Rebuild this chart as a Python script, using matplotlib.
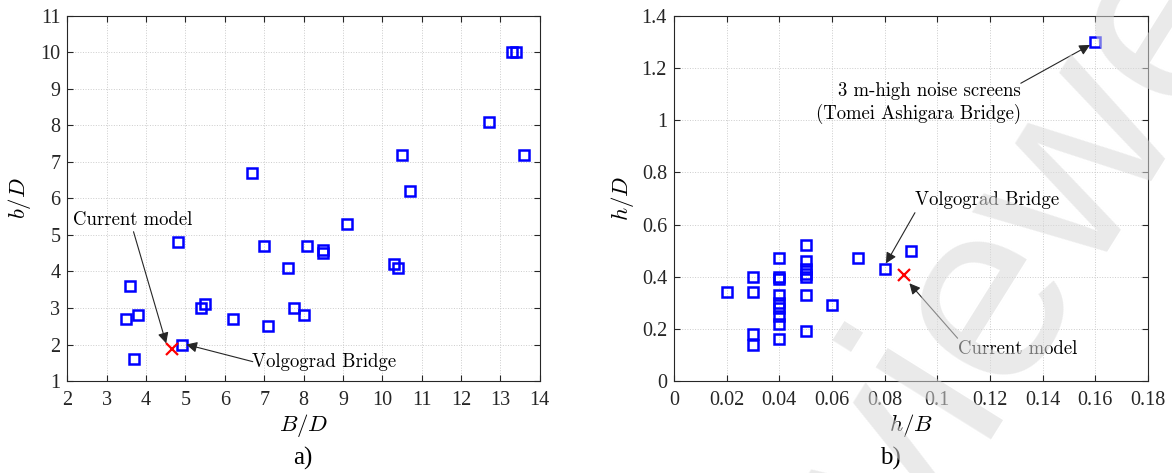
import matplotlib
matplotlib.use('Agg')
import matplotlib.pyplot as plt

# deck geometry database: B/D vs b/D (left) and h/B vs h/D (right)
bridge_BD = [13.3, 13.4, 12.7, 10.5, 13.6, 6.7, 10.7, 9.1, 4.8, 7.0, 8.1, 8.5, 8.5,
             7.6, 10.3, 10.4, 3.6, 5.4, 5.5, 7.75, 3.8, 3.5, 6.2, 8.0, 7.1, 4.9, 3.7]
bridge_bD = [10.0, 10.0, 8.1, 7.2, 7.2, 6.7, 6.2, 5.3, 4.8, 4.7, 4.7, 4.6, 4.5,
             4.1, 4.2, 4.1, 3.6, 3.0, 3.1, 3.0, 2.8, 2.7, 2.7, 2.8, 2.5, 2.0, 1.6]

bridge_hB = [0.16, 0.02, 0.03, 0.03, 0.03, 0.03,
             0.04, 0.04, 0.04, 0.04, 0.04, 0.04, 0.04, 0.04, 0.04,
             0.05, 0.05, 0.05, 0.05, 0.05, 0.05, 0.05,
             0.06, 0.07, 0.08, 0.09]
bridge_hD = [1.30, 0.34, 0.40, 0.34, 0.18, 0.14,
             0.47, 0.40, 0.39, 0.33, 0.30, 0.28, 0.25, 0.22, 0.16,
             0.52, 0.46, 0.43, 0.41, 0.40, 0.33, 0.19,
             0.29, 0.47, 0.43, 0.50]

model_BD, model_bD = 4.65, 1.87
model_hB, model_hD = 0.0875, 0.405

xticks_a = list(range(2, 15))
yticks_a = list(range(1, 12))
xticks_b = [0, 0.02, 0.04, 0.06, 0.08, 0.1, 0.12, 0.14, 0.16, 0.18]
xlabels_b = ['0', '0.02', '0.04', '0.06', '0.08', '0.1', '0.12', '0.14', '0.16', '0.18']
yticks_b = [0, 0.2, 0.4, 0.6, 0.8, 1.0, 1.2, 1.4]
ylabels_b = ['0', '0.2', '0.4', '0.6', '0.8', '1', '1.2', '1.4']

plt.rcParams['mathtext.fontset'] = 'cm'
plt.rcParams['font.family'] = 'Liberation Serif'

CM = 'cmr10'
blue = (0, 0, 1)
arrow = dict(arrowstyle='-|>', color='#262626', lw=0.8, mutation_scale=16,
             shrinkA=0, shrinkB=0)

fig = plt.figure(figsize=(11.72, 4.73), dpi=100)
ax1 = fig.add_axes([0.0575, 0.1945, 0.4030, 0.7717])
ax2 = fig.add_axes([0.5751, 0.1945, 0.4044, 0.7717])


def style(ax):
    ax.grid(True, linestyle=':', color='#cccccc', linewidth=0.7)
    ax.set_axisbelow(True)
    ax.tick_params(direction='in', top=True, right=True, length=4.5, width=0.8,
                   labelsize=14.5, colors='#262626')
    ax.tick_params(axis='x', pad=7)
    ax.tick_params(axis='y', pad=5)
    for s in ax.spines.values():
        s.set_linewidth(0.8)
        s.set_color('#262626')


# (a) width ratios
ax1.plot(bridge_BD, bridge_bD, 's', mfc='none', mec=blue, ms=7, mew=1.8)
ax1.plot(model_BD, model_bD, 'x', color='red', ms=8, mew=1.6)
ax1.set_xlim(2, 14)
ax1.set_ylim(1, 11)
ax1.set_xticks(xticks_a)
ax1.set_yticks(yticks_a)
style(ax1)
ax1.set_xlabel(r'$B/D$', fontsize=16.5)
ax1.set_ylabel(r'$b/D$', fontsize=16.5)
ax1.xaxis.set_label_coords(0.5, -0.085)
ax1.yaxis.set_label_coords(-0.073, 0.5)

ax1.text(2.15, 5.41, 'Current model', family=CM, fontsize=13.5, va='center')
ax1.annotate('', xy=(4.51, 2.03), xytext=(3.68, 5.09), arrowprops=arrow)
ax1.text(6.7, 1.53, 'Volgograd Bridge', family=CM, fontsize=13.5, va='center')
ax1.annotate('', xy=(5.02, 2.0), xytext=(6.71, 1.53), arrowprops=arrow)

# (b) barrier height ratios
ax2.plot(bridge_hB, bridge_hD, 's', mfc='none', mec=blue, ms=7, mew=1.8)
ax2.plot(model_hB, model_hD, 'x', color='red', ms=8, mew=1.6)
ax2.set_xlim(0, 0.18)
ax2.set_ylim(0, 1.4)
ax2.set_xticks(xticks_b, xlabels_b)
ax2.set_yticks(yticks_b, ylabels_b)
style(ax2)
ax2.set_xlabel(r'$h/B$', fontsize=16.5)
ax2.set_ylabel(r'$h/D$', fontsize=16.5)
ax2.xaxis.set_label_coords(0.5, -0.085)
ax2.yaxis.set_label_coords(-0.08, 0.5)

ax2.text(0.1317, 1.145, '3 m-high noise screens\n(Tomei Ashigara Bridge)', family=CM,
         fontsize=13.5, ha='right', va='top', multialignment='right', linespacing=1.25)
ax2.annotate('', xy=(0.158, 1.289), xytext=(0.1317, 1.142), arrowprops=arrow)
ax2.text(0.0915, 0.694, 'Volgograd Bridge', family=CM, fontsize=13.5, va='center')
ax2.annotate('', xy=(0.0805, 0.451), xytext=(0.0915, 0.6455), arrowprops=arrow)
ax2.text(0.108, 0.1227, 'Current model', family=CM, fontsize=13.5, va='center')
ax2.annotate('', xy=(0.0894, 0.3747), xytext=(0.1077, 0.164), arrowprops=arrow)

fig.text(303 / 1172, 1 - 458 / 473, 'a)', fontsize=18, ha='center', va='center')
fig.text(890 / 1172, 1 - 458 / 473, 'b)', fontsize=18, ha='center', va='center')

# review stamp across the right half
fig.text(958 / 1172, 1 - 332 / 473, 'Reviewer', family='Liberation Sans', fontsize=185,
         color='#d9d9d9', alpha=0.55, rotation=58, ha='center', va='center',
         rotation_mode='anchor', zorder=10)

fig.savefig('out.png', dpi=100)
